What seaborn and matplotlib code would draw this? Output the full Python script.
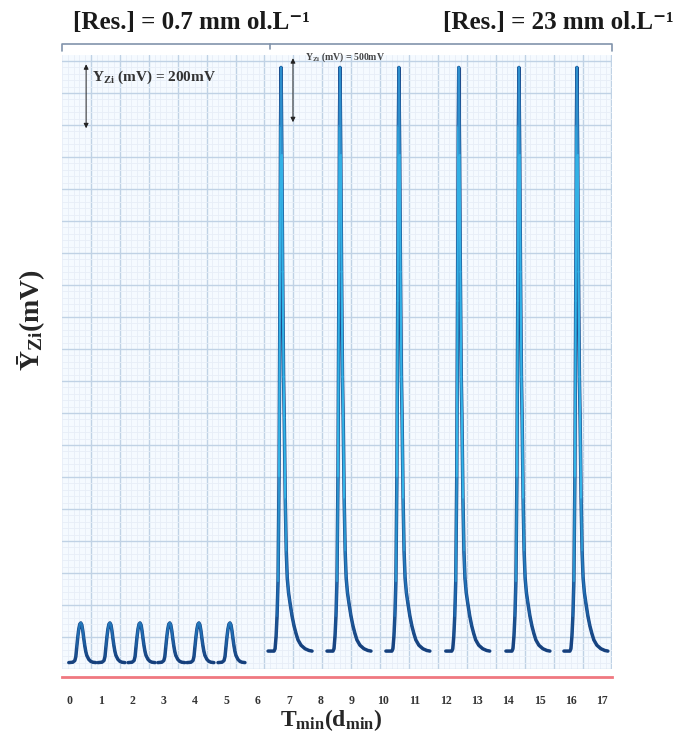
import numpy as np
import pandas as pd
import matplotlib
matplotlib.use("Agg")
import matplotlib.pyplot as plt
import seaborn as sns
from matplotlib.collections import LineCollection
from matplotlib.colors import LinearSegmentedColormap
from matplotlib.ticker import MultipleLocator

# ---- data -------------------------------------------------------------
# peak apex times (min) for the two resorcinol concentrations
low_peak_times = [0.36, 1.29, 2.25, 3.20, 4.13, 5.12]
high_peak_times = [6.75, 8.63, 10.51, 12.42, 14.34, 16.19]

# baseline / apex signal levels (mV)
low_base, low_top = 20, 144
high_base, high_top = 56, 1880

# recorded peak profile: offset from apex (min) and fraction of peak height
low_profile_dt = [-0.383, -0.255, -0.191, -0.159, -0.128, -0.096, -0.064,
                  -0.032, 0.0, 0.032, 0.064, 0.096, 0.128, 0.159, 0.191,
                  0.255, 0.319, 0.383, 0.478]
low_profile_frac = [0.0, 0.01, 0.05, 0.15, 0.4, 0.65, 0.85, 0.97, 1.0, 0.95,
                    0.8, 0.6, 0.42, 0.28, 0.18, 0.08, 0.03, 0.01, 0.0]

high_profile_dt = [-0.415, -0.223, -0.191, -0.159, -0.128, -0.096, -0.064,
                   -0.038, -0.016, 0.0, 0.026, 0.051, 0.080, 0.102, 0.134,
                   0.166, 0.198, 0.239, 0.287, 0.351, 0.415, 0.478, 0.542,
                   0.638, 0.766, 0.893, 0.989]
high_profile_frac = [0.0, 0.0, 0.004, 0.025, 0.06, 0.12, 0.3, 0.6, 0.9, 1.0,
                     0.85, 0.65, 0.47, 0.40, 0.26, 0.17, 0.125, 0.10, 0.082,
                     0.06, 0.043, 0.03, 0.019, 0.01, 0.004, 0.001, 0.0]

x_ticks = list(range(0, 18))
scale_low_label = "200mV"
scale_high_label = "500mV"
scale_bar_mv = 200

# ---- build the long table of traces -----------------------------------
rows = []
pid = 0
for t0 in low_peak_times:
    for dt, f in zip(low_profile_dt, low_profile_frac):
        rows.append((pid, "low", t0 + dt, low_base + f * (low_top - low_base), f))
    pid += 1
for t0 in high_peak_times:
    for dt, f in zip(high_profile_dt, high_profile_frac):
        rows.append((pid, "high", t0 + dt, high_base + f * (high_top - high_base), f))
    pid += 1
df = pd.DataFrame(rows, columns=["peak", "level", "t", "signal", "frac"])

# ---- figure -------------------------------------------------------------
sns.set_theme(style="white")
plt.rcParams["font.family"] = ["Liberation Serif", "DejaVu Serif"]
plt.rcParams["mathtext.fontset"] = "custom"
plt.rcParams["mathtext.rm"] = "Liberation Serif:bold"
plt.rcParams["mathtext.it"] = "Liberation Serif:bold"
plt.rcParams["mathtext.bf"] = "Liberation Serif:bold"

W, H = 683, 732
fig = plt.figure(figsize=(W / 100, H / 100), dpi=100)
fig.patch.set_facecolor("white")

# chart-paper background
L, R, T, B_grid, B_ax = 62, 612, 55, 669, 677
ax_bg = fig.add_axes([L / W, (H - B_grid) / H, (R - L) / W, (B_grid - T) / H])
ax_bg.set_facecolor("#f5faff")
ax_bg.set_xlim(0, R - L)
ax_bg.set_ylim(0, B_grid - T)
ax_bg.set_xticks(np.arange(13, R - L, 29.8))
ax_bg.set_xticks(np.arange(13 - 29.8, R - L, 29.8 / 5), minor=True)
ax_bg.yaxis.set_major_locator(MultipleLocator(32))
ax_bg.yaxis.set_minor_locator(MultipleLocator(6.4))
ax_bg.grid(which="minor", color="#e7eef7", lw=0.6)
ax_bg.grid(which="major", color="#c0d2e5", lw=1.0)
ax_bg.tick_params(which="both", length=0, labelbottom=False, labelleft=False)
for s in ax_bg.spines.values():
    s.set_visible(False)

# signal axes
ax = fig.add_axes([L / W, (H - B_ax) / H, (R - L) / W, (B_ax - T) / H])
ax.set_facecolor("none")
ax.set_zorder(ax_bg.get_zorder() + 1)

sns.lineplot(data=df, x="t", y="signal", units="peak", estimator=None,
             sort=False, color="#1b4a8a", lw=2.5, ax=ax, legend=False)

# colour gradient along each trace (darker foot, cyan flank)
cmap = LinearSegmentedColormap.from_list(
    "trace", [(0.0, "#173f7a"), (0.1, "#1f6cb2"), (0.3, "#33b4e8"),
              (0.85, "#33b0e6"), (1.0, "#2a70b6")])
segs, vals = [], []
for (p, lvl), g in df.groupby(["peak", "level"]):
    pts = g[["t", "signal"]].to_numpy()
    fr = g["frac"].to_numpy()
    for i in range(len(pts) - 1):
        segs.append([pts[i], pts[i + 1]])
        m = 0.5 * (fr[i] + fr[i + 1])
        vals.append(m if lvl == "high" else m * 0.14)
lc = LineCollection(segs, cmap=cmap, norm=plt.Normalize(0, 1), lw=1.6,
                    capstyle="round")
lc.set_array(np.array(vals))
ax.add_collection(lc)

ax.set_xlim(-0.24, 17.31)
ax.set_ylim(-25, 1919)
ax.set_xticks(x_ticks)
ax.set_xticklabels([str(v) for v in x_ticks], fontsize=8.5, fontweight="bold",
                   color="#333333")
ax.set_yticks([])
ax.tick_params(axis="x", colors="#ee6f78", length=4, width=1,
               direction="inout", pad=11, labelcolor="#333333")
for side in ["left", "right", "top"]:
    ax.spines[side].set_visible(False)
ax.spines["bottom"].set_color("#f07880")
ax.spines["bottom"].set_linewidth(2.0)
ax.set_xlabel(r"T$_{\mathrm{min}}$(d$_{\mathrm{min}}$)", fontsize=17,
              fontweight="bold")
ax.xaxis.set_label_coords((331 - L) / (R - L), -(720 - B_ax) / (B_ax - T),
                          transform=ax.transAxes)
ax.xaxis.label.set_va("center")
ax.set_ylabel("Ȳ$_{\\mathrm{Zi}}$(mV)", fontsize=20, fontweight="bold")
ax.yaxis.set_label_coords((31 - L) / (R - L), (B_ax - 320) / (B_ax - T),
                          transform=ax.transAxes)
ax.yaxis.label.set_va("center")

# scale bars
y0 = 1690
ax.annotate("", xy=(0.53, y0 + scale_bar_mv), xytext=(0.53, y0),
            arrowprops=dict(arrowstyle="<|-|>", color="#222222", lw=0.7,
                            mutation_scale=7, shrinkA=0, shrinkB=0))
ax.text(0.72, 1850, "Y$_{\\mathrm{Zi}}$ (mV) = " + scale_low_label,
        fontsize=11, fontweight="bold", color="#333333", va="center")
y1 = 1709
ax.annotate("", xy=(7.13, y1 + scale_bar_mv), xytext=(7.13, y1),
            arrowprops=dict(arrowstyle="<|-|>", color="#222222", lw=0.7,
                            mutation_scale=7, shrinkA=0, shrinkB=0))
ax.text(7.5, 1912, "Y$_{\\mathrm{Zi}}$ (mV) = " + scale_high_label,
        fontsize=7, fontweight="bold", color="#444444", va="center")

# concentration bracket above the chart
yb = (B_ax - 44) / (B_ax - T)
yh = (B_ax - 51) / (B_ax - T)
ym = (B_ax - 49) / (B_ax - T)
xm = (270 - L) / (R - L)
kw = dict(transform=ax.transAxes, clip_on=False, color="#8194ab", lw=1.2)
ax.plot([0, 0, 1, 1], [yh, yb, yb, yh], **kw)
ax.plot([xm, xm], [yb, ym], **kw)

fig.text(191 / W, 1 - 22 / H, "[Res.] = 0.7 mm ol.L⁻¹", fontsize=18,
         fontweight="bold", ha="center", va="center", color="#1a1a1a")
fig.text(558 / W, 1 - 22 / H, "[Res.] = 23 mm ol.L⁻¹", fontsize=18,
         fontweight="bold", ha="center", va="center", color="#1a1a1a")

fig.savefig("out.png", dpi=100, facecolor="white")
